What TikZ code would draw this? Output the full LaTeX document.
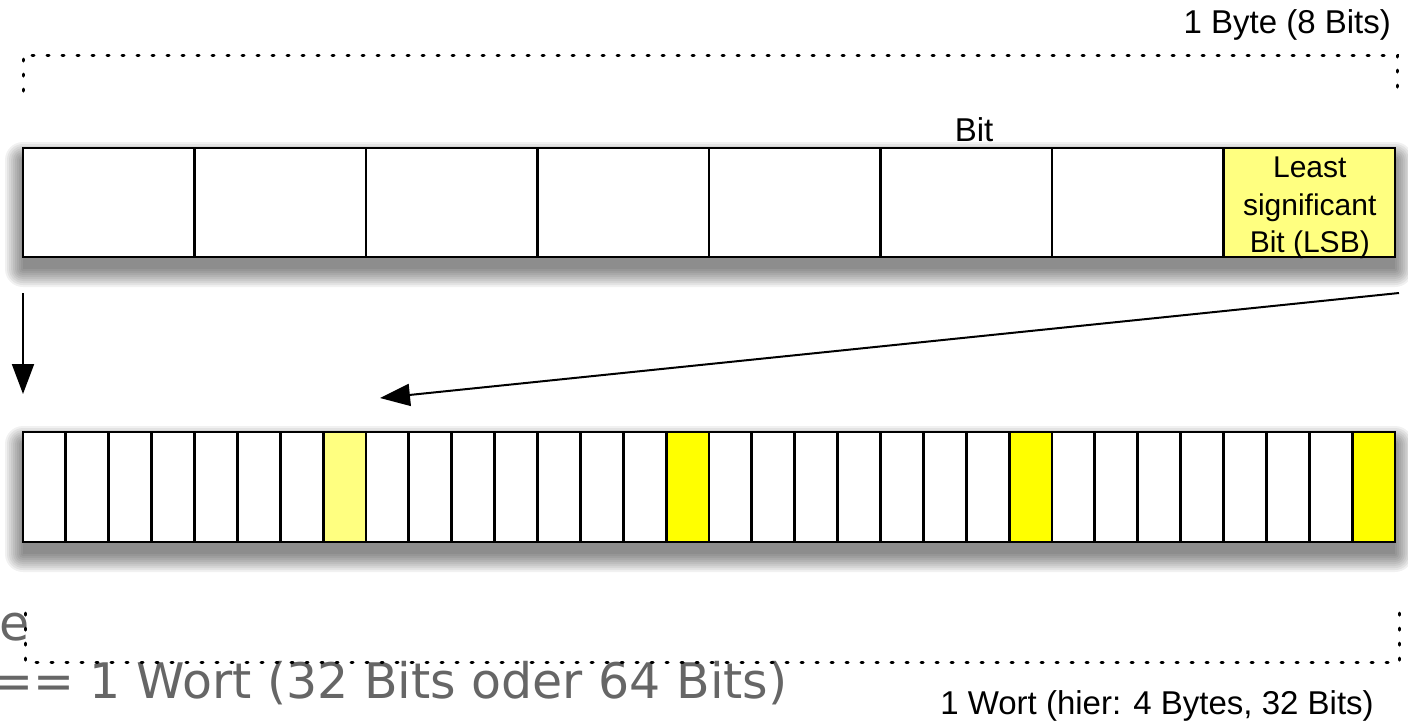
\documentclass[tikz,border=0pt]{standalone}
\usepackage{fontspec}
\setmainfont{Liberation Sans}
\newfontfamily\grayfont{DejaVu Sans}
\usetikzlibrary{arrows.meta}
\definecolor{lightyel}{HTML}{FFFF80}
\definecolor{brightyel}{HTML}{FFFF00}
\definecolor{graytxt}{HTML}{666666}
\newcommand\softshadow[4]{%
  \foreach \r in {0,2,...,18}{%
    \fill[black, fill opacity=0.055, rounded corners=\r pt] (#1-\r, #2+12-\r) rectangle (#3+\r, #4+12+\r);
  }}
\tikzset{
  tcell/.style={draw, line width=2.8pt, fill=white, minimum width=171.5pt, minimum height=109pt, inner sep=0pt, outer sep=0pt, anchor=north west},
  bcell/.style={draw, line width=2.8pt, fill=white, minimum width=42.875pt, minimum height=110pt, inner sep=0pt, outer sep=0pt, anchor=north west},
  lbl/.style={font=\fontsize{33}{40}\selectfont, inner sep=0pt},
  lsbtext/.style={align=center, inner sep=0pt, font=\fontsize{30}{37.5}\selectfont},
  dotline/.style={line width=3pt, line cap=round, dash pattern=on 2pt off 13pt},
  arr/.style={line width=2pt, -{Triangle[width=22pt,length=30pt]}},
  graytext/.style={text=graytxt, inner sep=0pt, font=\grayfont\fontsize{49}{58}\selectfont},
}
\begin{document}
\begin{tikzpicture}[x=1pt,y=-1pt]
\useasboundingbox (0,0) rectangle (1408,724);
\clip (0,0) rectangle (1408,724);
\fill[white] (0,0) rectangle (1408,724);

% gray clipped text
\node[graytext, anchor=base east] (g1) at (30,640) {ze};
\node[graytext, anchor=base west] (g2) at (-8,698) {== 1 Wort (32 Bits oder 64 Bits)};

% labels
\node[lbl, anchor=base east] (byte) at (1391,33) {1 Byte (8 Bits)};
\node[lbl] (bit) at (974,130) {Bit};
\node[lbl, anchor=base] (wort) at (1157,714) {1 Wort (hier: 4 Bytes, 32 Bits)};

% dotted brackets
\coordinate (ta) at (23,91);
\coordinate (tb) at (23,55);
\coordinate (tc) at (1397,55);
\coordinate (td) at (1397,90);
\draw[dotline] (ta) -- (tb) -- (tc) -- (td);
\coordinate (ba) at (25,613);
\coordinate (bb) at (25,662);
\coordinate (bc) at (1399,662);
\coordinate (bd) at (1399,610);
\draw[dotline] (ba) -- (bb) -- (bc) -- (bd);

% shadows
\softshadow{23}{148}{1395}{257}
\softshadow{23}{432}{1395}{542}

% top row
\foreach \i in {0,...,6}{
  \node[tcell] (t\i) at ({23+171.5*\i},148) {};
}
\node[tcell, fill=lightyel] (t7) at ({23+171.5*7},148) {};
\node[lsbtext] (lsb) at (1309.75,208) {Least\\significant\\Bit (LSB)};

% bottom row
\foreach \i in {0,...,31}{
  \def\fc{white}
  \ifnum\i=7 \def\fc{lightyel}\fi
  \ifnum\i=15 \def\fc{brightyel}\fi
  \ifnum\i=23 \def\fc{brightyel}\fi
  \ifnum\i=31 \def\fc{brightyel}\fi
  \node[bcell, fill=\fc] (b\i) at ({23+42.875*\i},432) {};
}

% arrows
\coordinate (d1) at (23,293);
\coordinate (d2) at (23,394);
\draw[arr] (d1) -- (d2);
\coordinate (a1) at (1399,293);
\coordinate (a2) at (380,398);
\draw[arr] (a1) -- (a2);
\end{tikzpicture}
\end{document}
